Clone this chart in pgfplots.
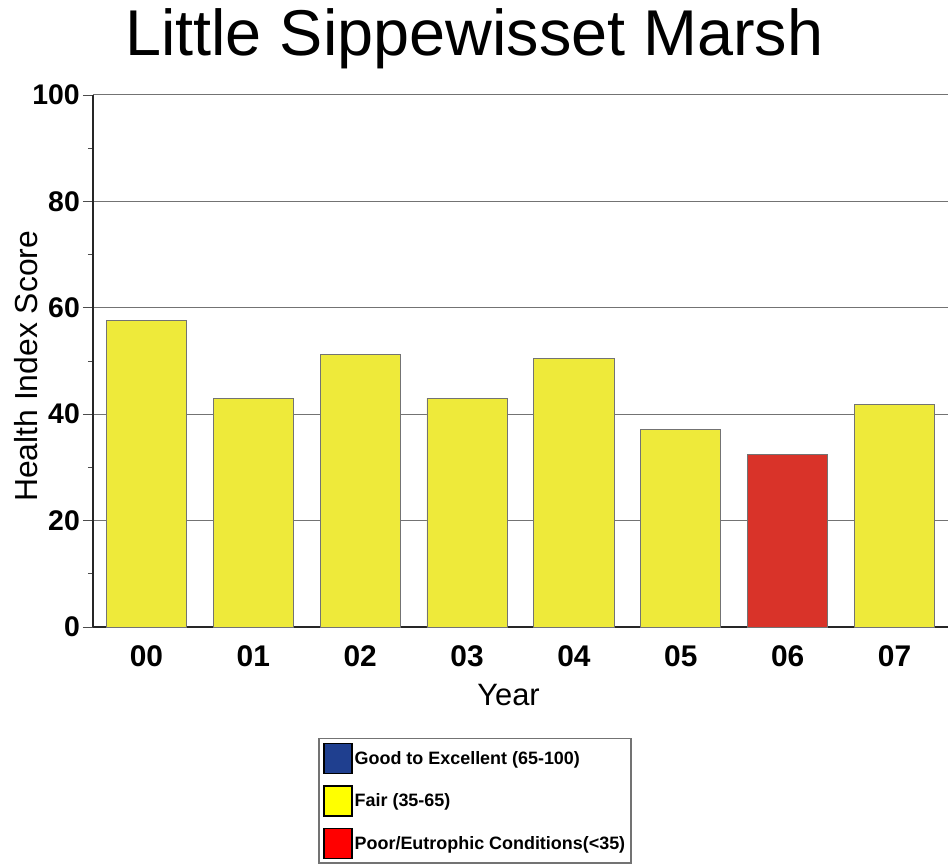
\documentclass[border=0pt]{standalone}
\usepackage{pgfplots}
\pgfplotsset{compat=1.18}
\usepackage{fontspec}
\setmainfont{Liberation Sans}
\definecolor{baryellow}{HTML}{EEEA3A}
\definecolor{barred}{HTML}{D93329}
\definecolor{legblue}{HTML}{1F3F8F}
\definecolor{legyellow}{HTML}{FFFF00}
\definecolor{legred}{HTML}{FF0000}
\begin{document}
\begin{tikzpicture}
\path[use as bounding box] (-93bp,-239bp) rectangle (855bp,627bp);
\begin{axis}[
  at={(0,0)}, anchor=south west,
  scale only axis, width=855bp, height=532bp,
  xmin=-0.5, xmax=7.5, ymin=0, ymax=100,
  axis x line*=bottom, axis y line*=left,
  axis line style={line width=1.6bp, draw=black!85},
  xtick={0,1,2,3,4,5,6,7},
  xticklabels={00,01,02,03,04,05,06,07},
  xtick style={draw=none},
  ytick={0,20,40,60,80,100},
  minor y tick num=1,
  tick align=outside,
  major tick length=10bp, minor tick length=5bp,
  ytick style={line width=0.8bp, draw=black!70},
  minor y tick style={line width=0.8bp, draw=black!70},
  ymajorgrids,
  major grid style={line width=1bp, draw=black!55},
  /pgf/number format/assume math mode=true,
  xticklabel style={font=\bfseries\fontsize{30}{32}\selectfont, anchor=center, yshift=-19bp},
  yticklabel style={font=\bfseries\fontsize{28.5}{30}\selectfont, anchor=east, inner sep=0pt, xshift=-3bp},
  title={Little Sippewisset Marsh},
  title style={font=\fontsize{65}{70}\selectfont, at={(axis description cs:0.446,1)}, anchor=base, yshift=34bp},
  ylabel={Health Index Score},
  ylabel style={font=\fontsize{32}{34}\selectfont, at={(axis description cs:-0.078,0.49)}, anchor=center},
  xlabel={Year},
  xlabel style={font=\fontsize{31}{33}\selectfont, at={(axis description cs:0.486,-0.127)}, anchor=center},
  ybar, bar width=0.75, bar shift=0pt,
  legend style={at={(axis description cs:0.447,-0.2086)}, anchor=north,
    draw=black!55, line width=1.5bp, inner xsep=4bp, inner ysep=4bp,
    row sep=11bp,
    font=\bfseries\fontsize{18}{20}\selectfont,
    nodes={inner xsep=2bp, inner ysep=1bp}},
  legend cell align=left,
  legend image code/.code={\draw[#1,draw=black,line width=1.5bp] (0bp,-15bp) rectangle (28bp,15bp);},
]
\addplot[fill=baryellow, draw=black!55, line width=0.8bp, forget plot] coordinates {
  (0,57.7) (1,43.0) (2,51.3) (3,43.0) (4,50.4) (5,37.2) (7,41.9)};
\addplot[fill=barred, draw=black!55, line width=0.8bp, forget plot] coordinates {
  (6,32.5)};
\addlegendimage{fill=legblue}
\addlegendentry{Good to Excellent (65-100)}
\addlegendimage{fill=legyellow}
\addlegendentry{Fair (35-65)}
\addlegendimage{fill=legred}
\addlegendentry{Poor/Eutrophic Conditions(<35)}
\end{axis}
\end{tikzpicture}
\end{document}
